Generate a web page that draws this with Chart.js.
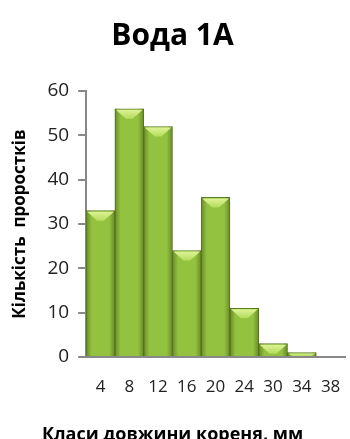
<!DOCTYPE html>
<html>
<head>
<meta charset="utf-8">
<script src="https://cdn.jsdelivr.net/npm/chart.js@4"></script>
<style>
  html, body { margin: 0; padding: 0; background: #fff; overflow: hidden; }
  #wrap { width: 350px; height: 446px; }
</style>
</head>
<body>
<div id="wrap"><canvas id="rootChart"></canvas></div>
<script>
const labels = ['4', '8', '12', '16', '20', '24', '30', '34', '38'];
const counts = [33, 56, 52, 24, 36, 11, 3, 1, 0];

// light top bevel + darker sides, drawn over each bar
const bevel = {
    id: 'bevel',
    afterDatasetsDraw(chart) {
        const ctx = chart.ctx;
        chart.getDatasetMeta(0).data.forEach(function (bar) {
            const l = bar.x - bar.width / 2, r = bar.x + bar.width / 2;
            const t = bar.y, b = bar.base;
            const h = b - t;
            if (h < 1) return;
            const g = ctx.createLinearGradient(l, 0, r, 0);
            g.addColorStop(0, 'rgba(70,95,20,0.55)');
            g.addColorStop(0.2, 'rgba(70,95,20,0)');
            g.addColorStop(0.8, 'rgba(70,95,20,0)');
            g.addColorStop(1, 'rgba(70,95,20,0.55)');
            ctx.save();
            ctx.fillStyle = g;
            ctx.fillRect(l, t, r - l, h);
            const d = Math.min(10, h);
            const tg = ctx.createLinearGradient(0, t, 0, t + d);
            tg.addColorStop(0, '#e2f59c');
            tg.addColorStop(1, '#b4dc5c');
            ctx.fillStyle = tg;
            ctx.beginPath();
            ctx.moveTo(l + 1, t + 1);
            ctx.lineTo(r - 1, t + 1);
            ctx.lineTo(r - 1 - d, t + d);
            ctx.lineTo(l + 1 + d, t + d);
            ctx.closePath();
            ctx.fill();
            ctx.restore();
        });
    }
};

new Chart(document.getElementById('rootChart'), {
    type: 'bar',
    data: {
        labels: labels,
        datasets: [{
            data: counts,
            backgroundColor: '#93c240',
            borderColor: '#5f7f25',
            borderWidth: 1,
            barPercentage: 1,
            categoryPercentage: 1
        }]
    },
    options: {
        responsive: true,
        maintainAspectRatio: false,
        animation: false,
        layout: { padding: { left: 0, right: 5, top: 0, bottom: 0 } },
        plugins: {
            legend: { display: false },
            tooltip: { enabled: false },
            title: {
                display: true,
                text: 'Вода 1А',
                color: '#000',
                font: { family: 'Open Sans', size: 30, weight: 'bold' },
                padding: { top: 18, bottom: 37 }
            },
            // x axis title, centred on the whole canvas like the original
            subtitle: {
                display: true,
                position: 'bottom',
                text: 'Класи довжини кореня, мм',
                color: '#000',
                font: { family: 'Open Sans', size: 18, weight: 'bold' },
                padding: { top: 24, bottom: 0 }
            }
        },
        scales: {
            x: {
                // invisible tick marks push the labels down without eating right space
                grid: { display: false, drawTicks: true, tickLength: 17 },
                border: { display: true, color: '#888', width: 2 },
                ticks: {
                    color: '#222',
                    maxRotation: 0,
                    autoSkip: false,
                    padding: 3,
                    font: { family: 'Open Sans', size: 17 }
                }
            },
            y: {
                min: 0,
                max: 60,
                grid: {
                    drawOnChartArea: false,
                    color: '#888',
                    tickLength: 8,
                    lineWidth: 2
                },
                border: { display: true, color: '#888', width: 2 },
                ticks: {
                    stepSize: 10,
                    color: '#222',
                    padding: 9,
                    font: { family: 'Open Sans', size: 19 }
                },
                title: {
                    display: true,
                    text: 'Кількість  проростків',
                    color: '#000',
                    font: { family: 'Open Sans', size: 17, weight: 'bold' },
                    padding: { top: 10, bottom: 8 }
                }
            }
        }
    },
    plugins: [bevel]
});
</script>
</body>
</html>
